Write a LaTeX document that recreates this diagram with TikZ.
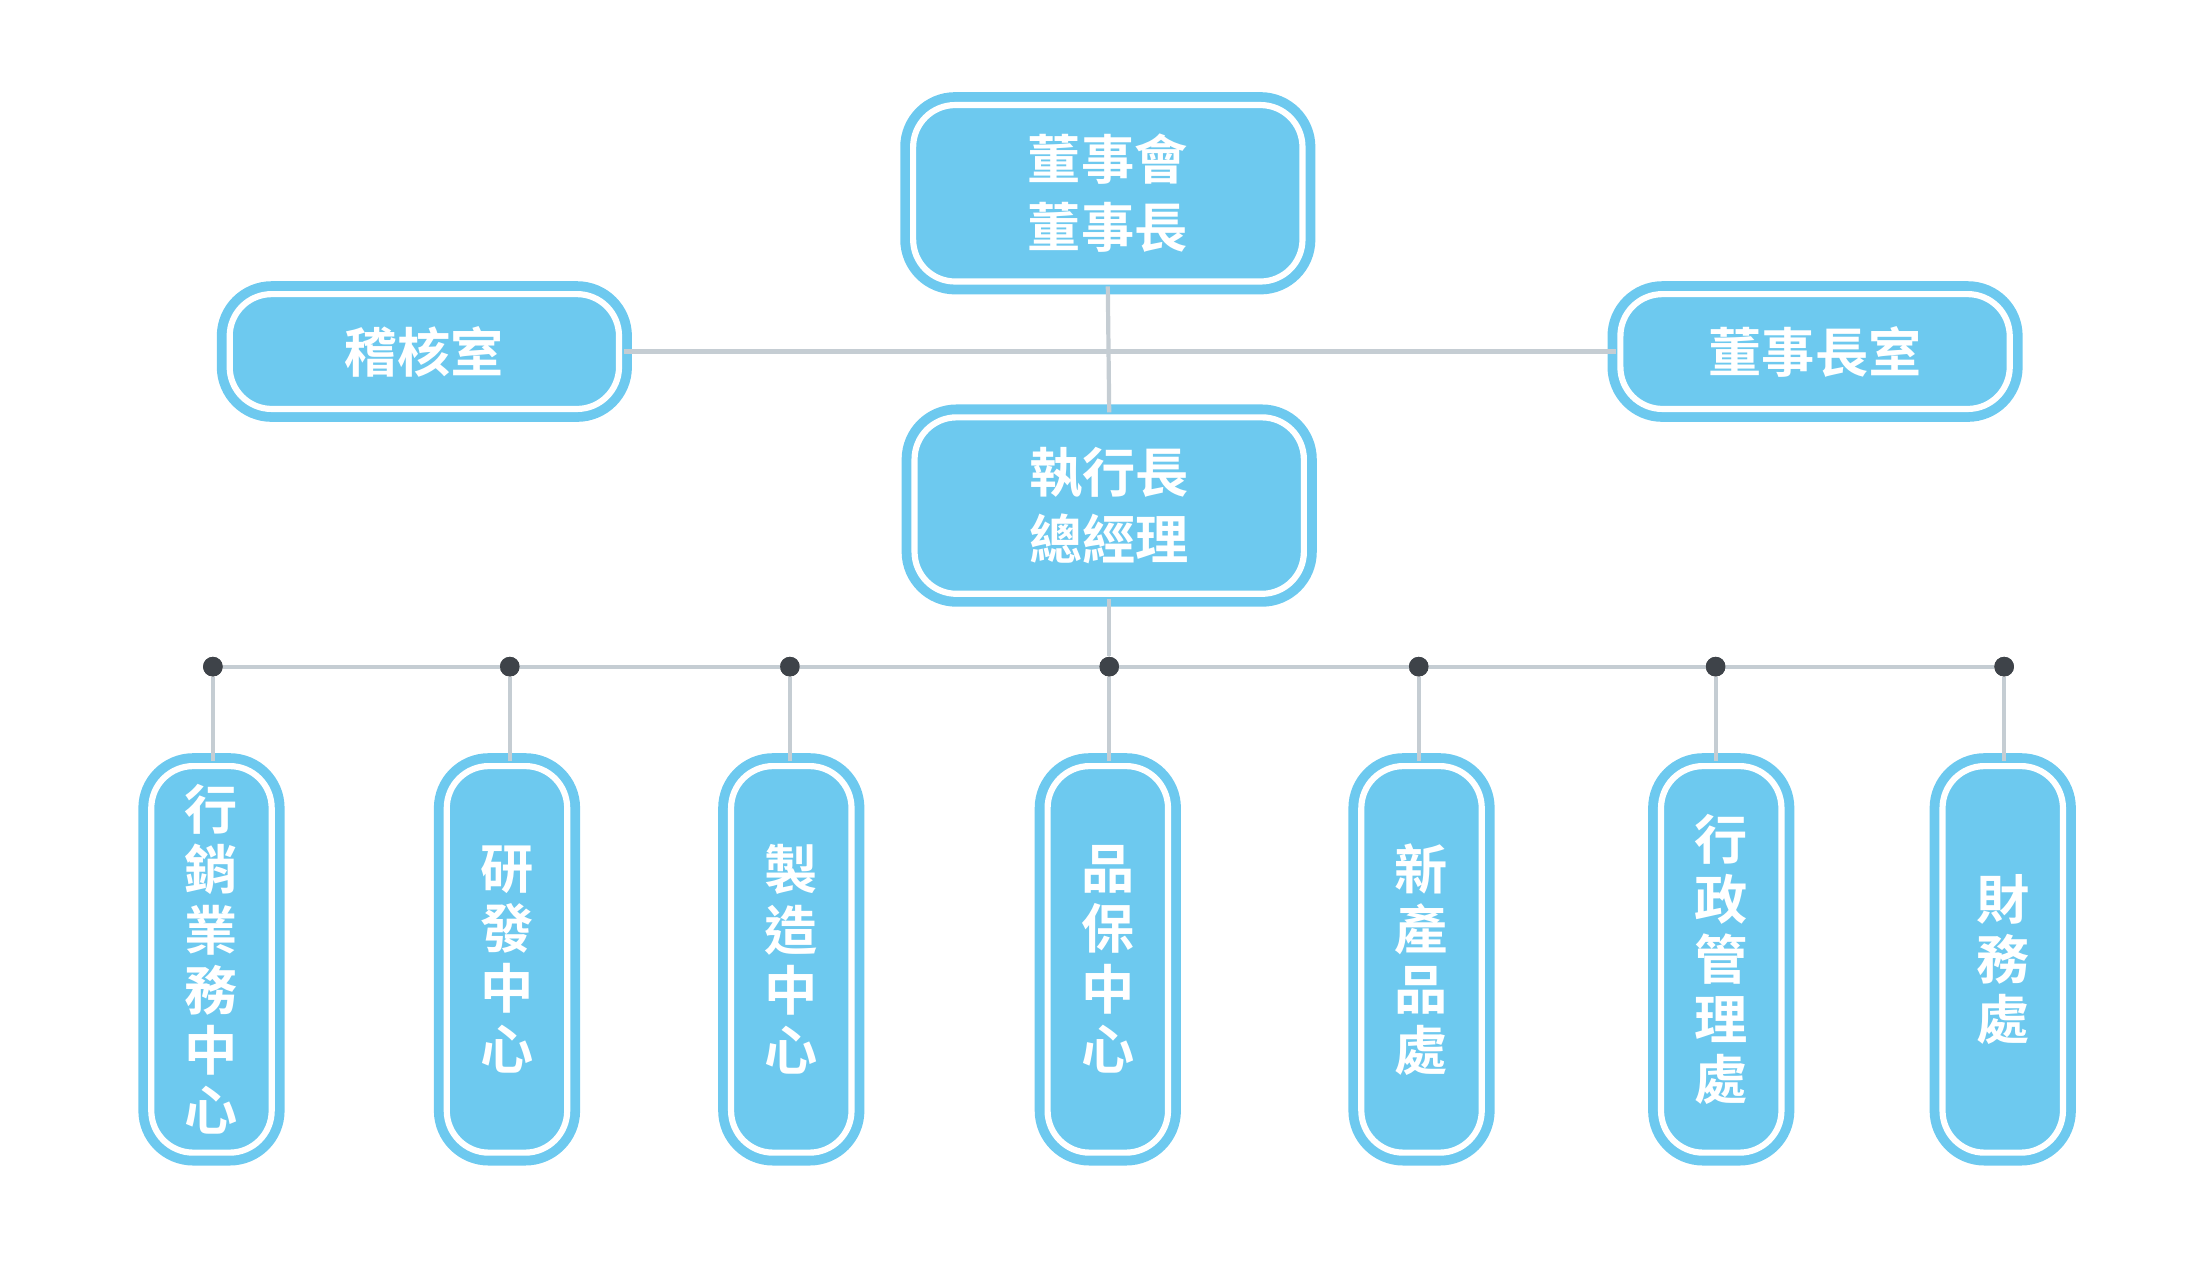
\documentclass[tikz,border=0pt]{standalone}
\usepackage{fontspec}
\newfontfamily\cjk{Noto Sans CJK TC}[BoldFont={* Bold}]
\usetikzlibrary{shadows.blur}
\definecolor{sky}{HTML}{6DC9EF}
\definecolor{ln}{HTML}{C5CDD3}
\definecolor{dot}{HTML}{3E4349}
\tikzset{
 box/.style={fill=sky,draw=sky,line width=3.5pt,double=white,double distance=2.2pt,rounded corners=15pt,
   blur shadow={shadow xshift=0pt,shadow yshift=-1pt,shadow blur steps=6,shadow blur extra rounding=3pt,shadow opacity=35},
   text=white,font=\cjk\bfseries\fontsize{19}{24}\selectfont,align=center,inner sep=0pt},
 hbox/.style={box,minimum width=139pt,minimum height=63pt},
 sbox/.style={box,minimum width=139pt,minimum height=41pt},
 vbox/.style={box,minimum width=43pt,minimum height=138pt,font=\cjk\bfseries\fontsize{19}{21.5}\selectfont},
 con/.style={draw=ln,line width=1.5pt},
 bd/.style={circle,fill=dot,inner sep=0pt,minimum size=7pt}
}
\begin{document}
\begin{tikzpicture}[x=0.5pt,y=-0.5pt]
\useasboundingbox (0,0) rectangle (1568,905);
\coordinate (jn) at (792,252);
\node[bd] (b0) at (792,476) {};
\foreach \n/\x in {b1/152,b2/364,b3/564,b5/1013,b6/1225,b7/1431}{\node[bd] (\n) at (\x,476) {};}
\path[con] (b1) -- (b7);
\node[hbox] (top) at (791,138) {董事會\\董事長};
\node[sbox] (aud) at (303,251) {稽核室};
\node[sbox] (off) at (1296,251) {董事長室};
\node[hbox] (ceo) at (792,361) {執行長\\總經理};
\begin{scope}[on background layer/.style={}]
\end{scope}
\node[vbox] (d1) at (151,685) {行\\銷\\業\\務\\中\\心};
\node[vbox] (d2) at (362,685) {研\\發\\中\\心};
\node[vbox] (d3) at (565,685) {製\\造\\中\\心};
\node[vbox] (d4) at (791,685) {品\\保\\中\\心};
\node[vbox] (d5) at (1015,685) {新\\產\\品\\處};
\node[vbox] (d6) at (1229,685) {行\\政\\管\\理\\處};
\node[vbox] (d7) at (1430,685) {財\\務\\處};
\path[con] (aud.east) -- (off.west);
\path[con] (top.south) -- (ceo.north);
\path[con] (ceo.south) -- (b0);
\foreach \b/\d in {b1/d1,b2/d2,b3/d3,b0/d4,b5/d5,b6/d6,b7/d7}{\path[con] (\b) -- (\b|-\d.north);}
\foreach \n in {b0,b1,b2,b3,b5,b6,b7}{\fill[dot] (\n) circle (3.5pt);}
\end{tikzpicture}
\end{document}
